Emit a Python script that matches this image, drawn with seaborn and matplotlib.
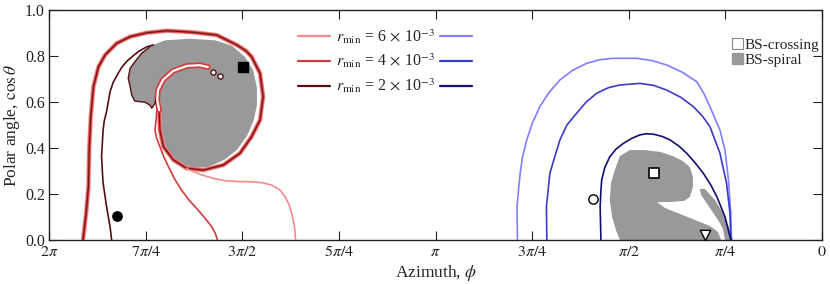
import numpy as np
import matplotlib
matplotlib.use("Agg")
import matplotlib.pyplot as plt
import seaborn as sns
from matplotlib.lines import Line2D
from matplotlib.patches import Patch

# ---------------- data (azimuth in units of pi, polar angle as cos(theta)) ----------
# shared outer loop of the left (red) family
outer_phi = [1.912, 1.904, 1.898, 1.896, 1.892, 1.885, 1.872, 1.855, 1.825, 1.790, 1.747,
             1.695, 1.627, 1.566, 1.514, 1.490, 1.476, 1.454, 1.446, 1.454, 1.476, 1.506,
             1.549, 1.601, 1.644, 1.678, 1.704, 1.713, 1.715]
outer_cos = [0.000, 0.117, 0.232, 0.391, 0.536, 0.667, 0.753, 0.804, 0.855, 0.884, 0.901,
             0.910, 0.903, 0.891, 0.848, 0.822, 0.797, 0.725, 0.623, 0.522, 0.449, 0.377,
             0.326, 0.304, 0.312, 0.348, 0.406, 0.478, 0.565]
hook_phi = [1.715, 1.720, 1.718, 1.705, 1.679, 1.643, 1.610, 1.589]
hook_cos = [0.565, 0.609, 0.652, 0.696, 0.735, 0.757, 0.760, 0.752]
hook_dots_phi = [1.575, 1.558]
hook_dots_cos = [0.732, 0.714]

pink_phi = [1.644, 1.640, 1.605, 1.575, 1.545, 1.510, 1.476, 1.448, 1.424, 1.403, 1.389,
            1.378, 1.372, 1.366, 1.364, 1.362]
pink_cos = [0.312, 0.307, 0.283, 0.268, 0.258, 0.254, 0.253, 0.249, 0.239, 0.218, 0.188,
            0.150, 0.116, 0.070, 0.043, 0.000]
red_phi = [1.720, 1.721, 1.723, 1.726, 1.721, 1.713, 1.703, 1.691, 1.676, 1.657, 1.637,
           1.614, 1.596, 1.579, 1.570, 1.564]
red_cos = [0.609, 0.565, 0.520, 0.478, 0.440, 0.406, 0.362, 0.319, 0.268, 0.217, 0.172,
           0.130, 0.094, 0.058, 0.030, 0.000]
dark_phi = [1.730, 1.747, 1.769, 1.795, 1.810, 1.821, 1.834, 1.842, 1.851, 1.857, 1.860,
            1.864, 1.862, 1.860, 1.851, 1.842, 1.838]
dark_cos = [0.848, 0.840, 0.819, 0.783, 0.755, 0.725, 0.685, 0.645, 0.558, 0.518, 0.478,
            0.362, 0.300, 0.247, 0.145, 0.058, 0.000]
arm_edge_phi = [1.739, 1.760, 1.778, 1.790, 1.795, 1.790, 1.786, 1.778, 1.752, 1.739,
                1.734, 1.726, 1.721]
arm_edge_cos = [0.840, 0.812, 0.775, 0.747, 0.703, 0.667, 0.630, 0.604, 0.599, 0.587,
                0.573, 0.594, 0.622]

# BS-spiral regions
spiral_left_phi = [1.739, 1.700, 1.635, 1.570, 1.527, 1.493, 1.472, 1.462, 1.462, 1.470,
                   1.488, 1.514, 1.547, 1.589, 1.627, 1.661, 1.687, 1.702, 1.710, 1.710,
                   1.713, 1.721, 1.726, 1.734, 1.739, 1.752, 1.778, 1.786, 1.790, 1.795,
                   1.790, 1.778, 1.760]
spiral_left_cos = [0.843, 0.868, 0.875, 0.868, 0.845, 0.796, 0.739, 0.661, 0.587, 0.522,
                   0.452, 0.391, 0.348, 0.317, 0.313, 0.330, 0.365, 0.422, 0.487, 0.565,
                   0.609, 0.622, 0.594, 0.573, 0.587, 0.599, 0.604, 0.630, 0.667, 0.703,
                   0.747, 0.775, 0.812]
spiral_right_phi = [0.523, 0.497, 0.458, 0.419, 0.386, 0.360, 0.342, 0.334, 0.334, 0.342,
                    0.357, 0.393, 0.427, 0.406, 0.367, 0.329, 0.290, 0.269, 0.261, 0.523,
                    0.533, 0.543, 0.549, 0.546, 0.536]
spiral_right_cos = [0.365, 0.391, 0.391, 0.383, 0.365, 0.343, 0.317, 0.274, 0.230, 0.187,
                    0.170, 0.165, 0.165, 0.139, 0.113, 0.087, 0.061, 0.035, 0.000, 0.000,
                    0.043, 0.100, 0.174, 0.248, 0.304]
spiral_arm_phi = [0.316, 0.303, 0.277, 0.256, 0.243, 0.233, 0.230, 0.251, 0.256, 0.269,
                  0.290, 0.313]
spiral_arm_cos = [0.222, 0.222, 0.174, 0.117, 0.065, 0.013, 0.000, 0.000, 0.048, 0.087,
                  0.139, 0.196]

# right (blue) family
blue6_phi = [0.788, 0.789, 0.785, 0.781, 0.775, 0.764, 0.749, 0.730, 0.706, 0.678, 0.645,
             0.609, 0.575, 0.540, 0.479, 0.440, 0.402, 0.362, 0.324, 0.305, 0.290, 0.264,
             0.251, 0.242, 0.236, 0.234]
blue6_cos = [0.000, 0.145, 0.220, 0.290, 0.360, 0.435, 0.510, 0.580, 0.642, 0.696, 0.738,
             0.768, 0.784, 0.790, 0.790, 0.780, 0.761, 0.730, 0.688, 0.635, 0.580, 0.478,
             0.391, 0.261, 0.116, 0.000]
blue4_phi = [0.712, 0.713, 0.704, 0.690, 0.678, 0.660, 0.635, 0.610, 0.583, 0.553, 0.523,
             0.471, 0.435, 0.402, 0.365, 0.333, 0.310, 0.290, 0.264, 0.247, 0.238, 0.236]
blue4_cos = [0.000, 0.145, 0.290, 0.370, 0.435, 0.500, 0.551, 0.600, 0.638, 0.662, 0.674,
             0.681, 0.672, 0.652, 0.620, 0.580, 0.540, 0.493, 0.377, 0.247, 0.116, 0.000]
blue2_phi = [0.572, 0.574, 0.572, 0.570, 0.562, 0.549, 0.533, 0.514, 0.492, 0.471, 0.455,
             0.436, 0.413, 0.393, 0.370, 0.350, 0.328, 0.307, 0.288, 0.272, 0.251, 0.238,
             0.235]
blue2_cos = [0.000, 0.145, 0.215, 0.261, 0.315, 0.362, 0.395, 0.420, 0.442, 0.457, 0.462,
             0.460, 0.450, 0.435, 0.408, 0.377, 0.335, 0.290, 0.240, 0.188, 0.101, 0.014,
             0.000]

# special points
pt_filled_circle = (1.823, 0.104)
pt_filled_square = (1.497, 0.753)
pt_open_square = (0.435, 0.290)
pt_open_circle = (0.592, 0.177)
pt_open_triangle = (0.303, 0.022)

legend_labels = [r"$r_{\rm min}$ = 6$\,\times\,$10$^{-3}$",
                 r"$r_{\rm min}$ = 4$\,\times\,$10$^{-3}$",
                 r"$r_{\rm min}$ = 2$\,\times\,$10$^{-3}$"]
xtick_vals = [0, 0.25, 0.5, 0.75, 1.0, 1.25, 1.5, 1.75, 2.0]
xtick_labels = ["$0$", r"$\pi/4$", r"$\pi/2$", r"$3\pi/4$", r"$\pi$", r"$5\pi/4$",
                r"$3\pi/2$", r"$7\pi/4$", r"$2\pi$"]
ytick_vals = [0.0, 0.2, 0.4, 0.6, 0.8, 1.0]

# ---------------- style ----------------
sns.set_theme(style="ticks")
plt.rcParams["font.family"] = ["Liberation Serif", "DejaVu Serif"]
plt.rcParams["mathtext.fontset"] = "stix"
plt.rcParams.update({
    "xtick.direction": "in", "ytick.direction": "in",
    "xtick.top": True, "ytick.right": True,
    "xtick.major.size": 6.5, "ytick.major.size": 6.5,
    "xtick.major.width": 0.8, "ytick.major.width": 0.8,
    "xtick.color": "#222222", "ytick.color": "#222222",
    "xtick.labelsize": 11.5, "ytick.labelsize": 11.5,
    "axes.labelsize": 12.5, "axes.edgecolor": "#222222",
})

c_pink, c_red, c_dark = "#f28a8a", "#d23c3c", "#560f0f"
c_lb, c_mb, c_nb = "#7f7fff", "#3a3acd", "#101070"
c_gray = "#999999"

fig = plt.figure(figsize=(8.3, 2.84), dpi=100)
ax = fig.add_axes([49 / 830, 44 / 284, 773 / 830, 230 / 284])

P = np.pi
def line(xs, ys, color, lw, z=3):
    sns.lineplot(x=np.array(xs) * P, y=ys, sort=False, estimator=None, color=color,
                 linewidth=lw, ax=ax, zorder=z, legend=False)

# gray spiral regions
for xs, ys in [(spiral_left_phi, spiral_left_cos), (spiral_right_phi, spiral_right_cos),
               (spiral_arm_phi, spiral_arm_cos)]:
    ax.fill(np.array(xs) * P, ys, color=c_gray, lw=0, zorder=1)

# red family
line(outer_phi, outer_cos, c_pink, 3.2)
line(outer_phi, outer_cos, c_red, 1.9)
line(outer_phi, outer_cos, c_dark, 0.6)
line(hook_phi, hook_cos, c_red, 4.0)
line(hook_phi, hook_cos, "white", 1.6, z=4)
line(pink_phi, pink_cos, c_pink, 1.2)
line(red_phi, red_cos, c_red, 1.2)
line(dark_phi, dark_cos, c_dark, 1.2)
line(arm_edge_phi, arm_edge_cos, c_dark, 1.0)
ax.scatter(np.array(hook_dots_phi) * P, hook_dots_cos, s=14, facecolor="white",
           edgecolor=c_dark, linewidth=1.0, zorder=5)

# blue family
line(blue6_phi, blue6_cos, c_lb, 1.2)
line(blue4_phi, blue4_cos, c_mb, 1.2)
line(blue2_phi, blue2_cos, c_nb, 1.2)

# special points
ax.scatter([pt_filled_circle[0] * P], [pt_filled_circle[1]], s=45, color="black", zorder=6)
ax.scatter([pt_filled_square[0] * P], [pt_filled_square[1]], s=55, marker="s", color="black", zorder=6)
ax.scatter([pt_open_square[0] * P], [pt_open_square[1]], s=45, marker="s", facecolor="white",
           edgecolor="black", linewidth=1.2, zorder=6)
ax.scatter([pt_open_circle[0] * P], [pt_open_circle[1]], s=45, marker="o", facecolor="white",
           edgecolor="black", linewidth=1.0, zorder=6)
ax.scatter([pt_open_triangle[0] * P], [pt_open_triangle[1]], s=55, marker="v", facecolor="white",
           edgecolor="black", linewidth=1.0, zorder=6)

ax.set_xlim(2 * P, 0)
ax.set_ylim(0, 1)
ax.set_xticks(np.array(xtick_vals) * P)
ax.set_xticklabels(xtick_labels)
ax.set_yticks(ytick_vals)
ax.set_yticklabels([f"{v:.1f}" for v in ytick_vals])
ax.tick_params(axis="both", pad=3)
ax.set_xlabel(r"Azimuth, $\phi$", labelpad=2)
ax.set_ylabel(r"Polar angle, $\cos\theta$", labelpad=2)
for s in ax.spines.values():
    s.set_linewidth(1.0)
    s.set_visible(True)

# legends
fs = 11.5
red_handles = [Line2D([], [], color=c, lw=1.6) for c in (c_pink, c_red, c_dark)]
blue_handles = [Line2D([], [], color=c, lw=1.6) for c in (c_lb, c_mb, c_nb)]
common = dict(frameon=False, fontsize=fs, handlelength=2.0, handletextpad=0.35,
              labelspacing=0.38, borderpad=0, borderaxespad=0, loc="upper left",
              bbox_transform=ax.transAxes)
x0 = (298 - 49) / 773
y0 = (240 - 27) / 230
leg1 = ax.legend(red_handles, legend_labels, bbox_to_anchor=(x0, y0), **common)
ax.add_artist(leg1)
x1 = x0 + (2.0 + 0.35) * fs * 100 / 72 / 773
leg2 = ax.legend(blue_handles, legend_labels, bbox_to_anchor=(x1, y0), markerfirst=False,
                 labelcolor="none", **common)
ax.add_artist(leg2)

bs_handles = [Patch(facecolor="white", edgecolor="#888888", lw=0.8),
              Patch(facecolor=c_gray, edgecolor=c_gray)]
ax.legend(bs_handles, ["BS-crossing", "BS-spiral"], frameon=False, fontsize=11,
          handlelength=0.7, handleheight=0.7, handletextpad=0.15, labelspacing=0.1,
          borderpad=0, borderaxespad=0, loc="upper left",
          bbox_to_anchor=((732 - 49) / 773, (240 - 38) / 230), bbox_transform=ax.transAxes)

fig.savefig("out.png", dpi=100)
